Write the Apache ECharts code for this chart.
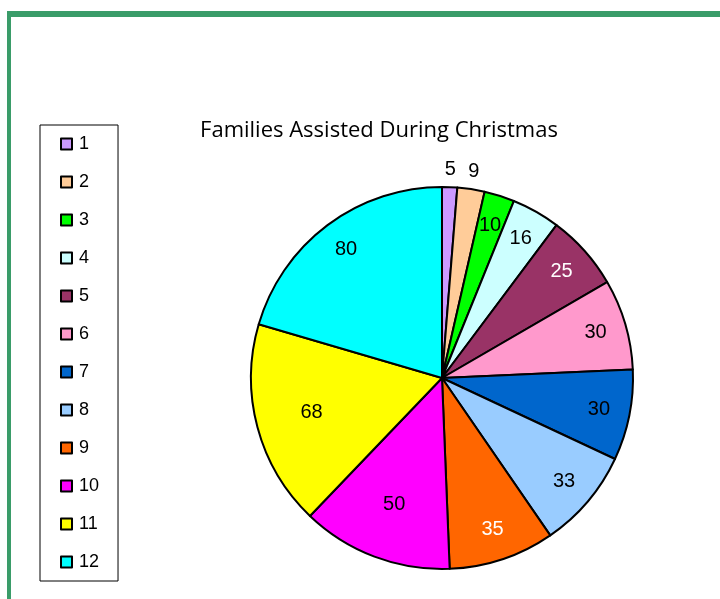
<!DOCTYPE html>
<html><head><meta charset="utf-8">
<script src="https://cdn.jsdelivr.net/npm/echarts@6/dist/echarts.min.js"></script>
<style>html,body{margin:0;padding:0;background:#fff}#c{width:720px;height:599px}</style>
</head><body><div id="c"></div>
<script>
const categories = ['1','2','3','4','5','6','7','8','9','10','11','12'];
const values = [5, 9, 10, 16, 25, 30, 30, 33, 35, 50, 68, 80];
const colors = ['#cc99ff','#ffcc99','#00ff00','#ccffff','#993366','#ff99cc','#0066cc','#99ccff','#ff6600','#ff00ff','#ffff00','#00ffff'];
const labelColors = ['#000','#000','#000','#000','#fff','#000','#000','#000','#fff','#000','#000','#000'];
const labelRing = ['outer','outer','mid','mid','mid','mid','mid','mid','mid','near','near','mid'];
const titleText = 'Families Assisted During Christmas';

const chart = echarts.init(document.getElementById('c'), null, {renderer:'canvas'});
const font = '"Liberation Sans", Arial, sans-serif';
const mainData = categories.map((c,i)=>({name:c, value:values[i], itemStyle:{color:colors[i]}}));
function ringData(ring){
  return categories.map((c,i)=>({name:c, value:values[i],
    label:{show: labelRing[i]===ring, color: labelColors[i]}}));
}
function labelSeries(ring, radius){
  return {type:'pie', center:[442,378], radius:radius, startAngle:90, clockwise:true,
     silent:true, legendHoverLink:false,
     itemStyle:{color:'rgba(0,0,0,0)', borderWidth:0},
     label:{position:'inside', formatter:'{c}', fontFamily:font, fontSize:20},
     labelLine:{show:false}, data: ringData(ring)};
}

chart.setOption({
  animation:false,
  color: colors,
  title:{text:titleText, left:374, top:115, textAlign:'center',
    textStyle:{fontFamily:'"Open Sans", sans-serif', fontSize:22, fontWeight:'normal', color:'#000'}},
  legend:{orient:'vertical', left:40, top:125, data:categories,
    padding:[10,19,10,20], itemGap:20, itemWidth:11, itemHeight:11, icon:'rect',
    borderColor:'#000', borderWidth:1,
    itemStyle:{borderColor:'#000', borderWidth:2},
    textStyle:{fontFamily:font, fontSize:18, color:'#000', lineHeight:18, padding:[0,0,0,2]}},
  graphic:[
    {type:'rect', shape:{x:7, y:11, width:720, height:6}, style:{fill:'#3a9c69'}, silent:true},
    {type:'rect', shape:{x:7, y:11, width:4, height:600}, style:{fill:'#3a9c69'}, silent:true}
  ],
  series:[
    {type:'pie', center:[442,378], radius:[0,191], startAngle:90, clockwise:true,
     label:{show:false}, labelLine:{show:false}, silent:true,
     itemStyle:{borderColor:'#000', borderWidth:2},
     data: mainData},
    labelSeries('mid', [124,190]),
    labelSeries('near', [100,164]),
    labelSeries('outer', [190,222])
  ]
});
</script></body></html>
